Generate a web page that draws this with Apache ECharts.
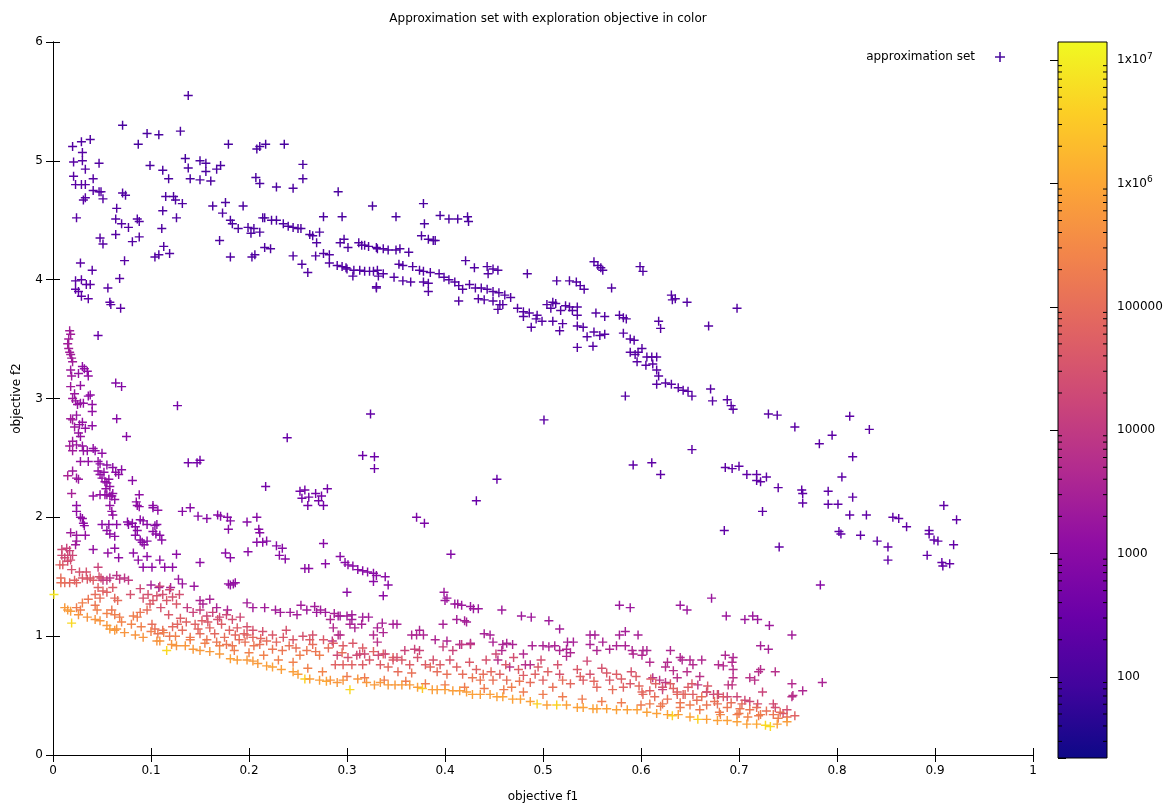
<!DOCTYPE html>
<html>
<head>
<meta charset="utf-8">
<script src="https://cdn.jsdelivr.net/npm/echarts@6/dist/echarts.min.js"></script>
<style>
html,body{margin:0;padding:0;background:#fff;}
#chart{width:1171px;height:808px;}
</style>
</head>
<body>
<div id="chart"></div>
<script>
// ---- data: [objective f1, objective f2, exploration objective] ----
const topCloud = [
[0.138,5.55,130],[0.071,5.30,110],[0.096,5.23,115],[0.108,5.22,110],[0.130,5.25,120],[0.020,5.12,155],[0.029,5.16,145],[0.038,5.18,135],
[0.087,5.14,110],[0.179,5.14,110],[0.208,5.10,115],[0.211,5.12,115],[0.217,5.14,110],[0.236,5.14,110],[0.030,5.07,165],[0.021,4.99,180],
[0.030,5.00,170],[0.047,4.98,145],[0.099,4.96,120],[0.135,5.02,110],[0.150,5.00,115],[0.156,4.98,120],[0.171,4.96,120],[0.255,4.97,125],
[0.033,4.93,165],[0.112,4.92,120],[0.138,4.94,115],[0.156,4.91,120],[0.167,4.93,120],[0.021,4.87,180],[0.041,4.85,165],[0.118,4.85,120],
[0.140,4.85,115],[0.150,4.84,120],[0.161,4.83,120],[0.207,4.86,125],[0.211,4.81,120],[0.255,4.85,125],[0.023,4.80,185],[0.029,4.80,180],
[0.033,4.80,175],[0.041,4.75,170],[0.047,4.74,165],[0.049,4.74,165],[0.071,4.73,145],[0.074,4.71,145],[0.228,4.78,125],[0.245,4.77,125],
[0.291,4.74,120],[0.031,4.67,175],[0.033,4.69,175],[0.051,4.68,165],[0.115,4.70,130],[0.123,4.70,130],[0.125,4.67,135],[0.132,4.64,135],
[0.176,4.65,125],[0.163,4.62,130],[0.194,4.62,125],[0.173,4.56,130],[0.065,4.60,155],[0.112,4.58,135],[0.024,4.52,190],[0.064,4.51,155],
[0.070,4.47,155],[0.077,4.44,155],[0.086,4.51,150],[0.088,4.49,150],[0.126,4.52,135],[0.111,4.43,140],[0.048,4.35,170],[0.051,4.30,170],
[0.064,4.38,160],[0.081,4.32,155],[0.088,4.36,155],[0.113,4.28,145],[0.170,4.33,130],[0.108,4.21,150],[0.119,4.22,145],[0.326,4.62,120],
[0.350,4.53,120],[0.378,4.64,120],[0.395,4.54,120],[0.404,4.51,120],[0.413,4.51,120],[0.423,4.53,120],[0.424,4.49,120],[0.276,4.53,120],
[0.295,4.53,120],[0.028,4.14,200],[0.040,4.08,190],[0.068,4.01,180],[0.073,4.16,175],[0.104,4.19,155]
];
const upperFront = [
[0.181,4.50,125],[0.183,4.47,125],[0.189,4.43,125],[0.199,4.44,125],[0.202,4.39,125],[0.205,4.43,125],[0.211,4.40,125],[0.214,4.52,120],
[0.216,4.52,120],[0.223,4.50,125],[0.228,4.50,125],[0.235,4.47,125],[0.240,4.45,125],[0.245,4.44,125],[0.250,4.43,130],[0.253,4.43,130],
[0.262,4.38,130],[0.265,4.37,130],[0.272,4.40,130],[0.216,4.27,135],[0.222,4.26,135],[0.203,4.19,140],[0.206,4.21,140],[0.181,4.19,145],
[0.269,4.31,135],[0.293,4.31,135],[0.297,4.34,135],[0.301,4.27,135],[0.315,4.29,135],[0.322,4.28,135],[0.330,4.27,135],[0.337,4.26,135],
[0.342,4.25,135],[0.350,4.25,135],[0.312,4.31,135],[0.318,4.29,135],[0.331,4.26,135],[0.354,4.26,135],[0.363,4.23,135],[0.376,4.37,130],
[0.383,4.34,130],[0.388,4.33,130],[0.390,4.33,130],[0.379,4.47,125],
[0.245,4.20,145],[0.254,4.13,145],[0.260,4.06,150],[0.268,4.20,145],[0.276,4.22,145],[0.282,4.21,145],[0.282,4.14,145],[0.290,4.12,145],
[0.295,4.11,145],[0.299,4.10,145],[0.300,4.09,145],[0.306,4.03,150],[0.307,4.08,145],[0.313,4.08,145],[0.318,4.07,145],[0.323,4.07,145],
[0.327,4.07,145],[0.331,4.08,145],[0.332,4.03,150],[0.337,4.05,150],[0.330,3.93,155],[0.348,4.02,150],[0.353,4.13,145],[0.357,4.12,145],
[0.357,3.99,150],[0.365,3.98,150],[0.367,4.11,145],[0.374,4.08,145],[0.378,4.07,145],[0.378,3.98,150],[0.383,3.97,150],[0.383,3.90,155],
[0.385,4.06,150],[0.394,4.05,150],[0.399,4.02,150],[0.404,4.00,150],[0.410,3.98,150],[0.414,3.95,150],[0.418,3.92,155],[0.414,3.82,155],
[0.425,3.96,150],[0.431,3.93,150],[0.437,3.93,150],[0.443,3.92,150],[0.449,3.90,155],[0.455,3.89,155],[0.461,3.87,155],[0.467,3.85,155],
[0.421,4.16,145],[0.443,4.11,145],[0.449,4.09,145],[0.454,4.08,145],[0.430,4.10,145],[0.444,4.05,150],[0.484,4.05,150],[0.504,3.79,155],
[0.434,3.84,155],[0.440,3.83,155],[0.449,3.82,155],[0.456,3.79,155],[0.459,3.79,155],[0.454,3.75,160],[0.474,3.76,155],[0.480,3.73,155],
[0.486,3.72,160],[0.494,3.70,160],[0.514,3.99,150],[0.527,3.99,150],[0.534,3.98,150],[0.538,3.95,150],[0.542,3.92,150],[0.552,4.15,145],
[0.556,4.12,145],[0.559,4.10,145],[0.561,4.08,145],[0.570,3.93,150],[0.599,4.11,145],[0.602,4.07,145],[0.631,3.87,155],[0.635,3.84,155],
[0.632,3.83,155],[0.647,3.81,155],[0.698,3.76,155],[0.669,3.61,160],[0.510,3.81,155],[0.513,3.80,155],[0.508,3.76,155],[0.518,3.74,155],
[0.523,3.78,155],[0.527,3.77,155],[0.530,3.74,155],[0.535,3.77,155],[0.535,3.70,160],[0.480,3.69,160],[0.493,3.67,160],[0.499,3.65,160],
[0.488,3.60,165],[0.510,3.65,160],[0.520,3.63,160],[0.517,3.57,165],[0.535,3.61,160],[0.541,3.60,160],[0.554,3.72,155],[0.563,3.69,155],
[0.545,3.52,165],[0.552,3.56,165],[0.558,3.53,165],[0.563,3.54,165],[0.535,3.43,170],[0.551,3.44,170],[0.578,3.70,155],[0.582,3.68,155],
[0.585,3.67,155],[0.582,3.55,165],[0.589,3.50,165],[0.593,3.49,165],[0.618,3.65,160],[0.620,3.59,160],[0.589,3.39,170],[0.594,3.37,170],
[0.597,3.39,170],[0.601,3.42,170],[0.606,3.35,170],[0.611,3.35,170],[0.616,3.35,170],[0.596,3.31,175],[0.605,3.28,175],[0.612,3.29,175],
[0.616,3.24,175],[0.618,3.19,175],[0.616,3.12,180],[0.625,3.13,180],[0.631,3.12,180],[0.638,3.09,180],[0.643,3.07,180],[0.648,3.06,180],
[0.652,3.02,180],[0.671,3.08,180],[0.673,2.98,185],[0.688,2.99,185],[0.692,2.94,185],[0.694,2.91,185],[0.584,3.02,185]
];
const rightTail = [
[0.730,2.87,190],[0.739,2.86,190],[0.757,2.76,200],[0.813,2.85,200],[0.833,2.74,200],[0.795,2.69,205],[0.782,2.62,205],[0.816,2.51,210],
[0.805,2.34,215],[0.764,2.23,220],[0.765,2.20,220],[0.765,2.12,225],[0.791,2.22,220],[0.791,2.11,225],[0.801,2.11,225],[0.816,2.17,225],
[0.813,2.02,230],[0.830,2.02,230],[0.857,2.00,230],[0.863,1.99,230],[0.871,1.92,235],[0.894,1.89,240],[0.894,1.86,240],[0.899,1.81,240],
[0.903,1.80,245],[0.909,2.10,230],[0.922,1.98,235],[0.919,1.77,245],[0.892,1.68,250],[0.907,1.62,260],[0.908,1.59,260],[0.915,1.61,260],
[0.852,1.75,250],[0.852,1.64,255],[0.841,1.80,245],[0.824,1.85,245],[0.802,1.88,240],[0.804,1.86,240],[0.724,2.05,230],[0.685,1.89,240],
[0.741,1.75,250]
];
const midScatter = [
[0.501,2.82,200],[0.652,2.57,210],[0.592,2.44,220],[0.611,2.46,220],[0.620,2.36,225],[0.686,2.42,220],[0.693,2.41,220],[0.700,2.43,220],
[0.708,2.36,225],[0.718,2.36,225],[0.718,2.31,225],[0.722,2.30,225],[0.728,2.34,225],[0.740,2.25,230],[0.432,2.14,300],[0.453,2.32,280],
[0.127,2.94,500],[0.239,2.67,300],[0.324,2.87,250],[0.138,2.46,450],[0.147,2.46,450],[0.150,2.48,450],[0.316,2.52,350],[0.328,2.51,350],
[0.328,2.41,350],[0.217,2.26,450],[0.252,2.22,450],[0.257,2.23,450],[0.254,2.16,450],[0.261,2.17,450],[0.268,2.20,450],[0.274,2.18,450],
[0.280,2.24,450],[0.271,2.14,450],[0.276,2.10,450],[0.260,2.10,450],[0.371,2.00,600],[0.379,1.95,600],[0.406,1.69,800],[0.783,1.43,900],
[0.330,3.94,180]
];
const leftColumn = [
[0.023,3.99,200],[0.023,3.92,210],[0.026,3.90,210],[0.029,3.86,215],[0.034,3.96,200],[0.038,3.96,200],[0.036,3.84,220],[0.056,3.93,190],
[0.058,3.81,200],[0.059,3.79,200],[0.069,3.76,200],[0.046,3.53,300],[0.029,4.00,200],
[0.017,3.57,2500],[0.018,3.54,2500],[0.016,3.50,2500],[0.015,3.46,2600],[0.016,3.42,2600],[0.017,3.39,2500],[0.018,3.37,2500],[0.019,3.34,2400],
[0.020,3.31,2400],[0.018,3.24,2000],[0.019,3.19,2000],[0.026,3.21,1500],[0.030,3.27,1200],[0.032,3.25,1200],[0.035,3.23,1200],[0.036,3.19,1300],
[0.018,3.10,2200],[0.028,3.11,1500],[0.022,3.04,1800],[0.020,3.00,2000],[0.023,2.98,1800],[0.025,2.95,1600],[0.028,2.96,1500],[0.031,2.96,1400],
[0.036,3.02,1200],[0.038,3.03,1200],[0.040,2.95,1300],[0.040,2.89,1300],[0.065,2.83,900],[0.075,2.68,900],[0.064,3.13,800],[0.070,3.10,800],
[0.018,2.83,2400],[0.020,2.82,2200],[0.024,2.86,1600],[0.022,2.76,2000],[0.027,2.78,1500],[0.030,2.80,1400],[0.033,2.75,1300],[0.040,2.77,1200],
[0.026,2.71,1600],[0.028,2.68,1500],[0.020,2.64,2000],[0.017,2.60,2500],[0.024,2.61,1800],[0.030,2.60,1600],[0.020,2.56,2200],[0.031,2.56,1500],
[0.035,2.56,1400],[0.041,2.58,1300],[0.043,2.56,1200],[0.050,2.54,1200],[0.028,2.47,1500],[0.036,2.47,1300],[0.046,2.47,1200],[0.048,2.45,1200],
[0.055,2.44,1100],[0.061,2.42,1100],[0.070,2.40,1000],[0.015,2.35,3500],[0.020,2.39,2000],[0.024,2.33,1800],[0.026,2.32,1800],[0.046,2.39,1300],
[0.048,2.36,1300],[0.052,2.38,1200],[0.050,2.33,1300],[0.053,2.30,1300],[0.055,2.29,1200],[0.057,2.32,1200],[0.058,2.26,1300],[0.054,2.24,1300],
[0.061,2.20,1300],[0.055,2.19,1300],[0.060,2.18,1200],[0.063,2.15,1300],[0.064,2.38,1100],[0.067,2.36,1100],[0.081,2.31,1000],[0.019,2.20,3000],
[0.041,2.18,1400],[0.048,2.19,1400],[0.053,2.19,1300],[0.058,2.18,1300],[0.058,2.10,1400],[0.060,2.05,1400],[0.061,2.02,1400],[0.085,2.13,1200],
[0.086,2.10,1200],[0.088,2.09,1200],[0.088,2.19,1200],[0.102,2.10,1200],[0.107,2.06,1200]
];
const midBand = [
[0.024,2.10,1200],[0.024,2.05,1200],[0.028,2.00,1150],[0.030,1.99,1150],[0.031,1.95,1150],[0.032,1.93,1150],[0.050,1.94,1000],[0.057,1.94,1000],
[0.077,1.94,950],[0.081,1.95,950],[0.084,1.92,950],[0.089,1.98,950],[0.092,1.97,950],[0.096,1.94,950],[0.106,1.94,950],[0.102,1.88,1000],
[0.109,1.85,1000],[0.018,1.87,2200],[0.024,1.85,1800],[0.033,1.85,1400],[0.024,1.80,2000],[0.023,1.77,2200],[0.041,1.73,1400],[0.055,1.89,1100],
[0.058,1.86,1100],[0.063,1.84,1100],[0.065,1.94,1000],[0.056,1.70,1400],[0.063,1.74,1200],[0.067,1.66,1200],[0.076,1.96,950],[0.086,1.89,1000],
[0.084,1.85,1000],[0.089,1.81,1000],[0.091,1.79,1000],[0.093,1.77,1100],[0.096,1.80,1000],[0.104,1.93,950],[0.105,1.86,1000],[0.111,1.81,1000],
[0.082,1.70,1150],[0.087,1.64,1150],[0.096,1.67,1150],[0.101,1.58,1200],[0.092,1.58,1200],[0.109,1.64,1150],[0.114,1.58,1150],[0.122,1.58,1150],
[0.126,1.69,1100],[0.102,2.08,900],[0.132,2.05,900],[0.140,2.08,900],[0.148,2.01,900],[0.157,1.99,900],[0.168,2.02,900],[0.171,2.01,900],
[0.178,2.00,900],[0.181,1.97,900],[0.179,1.90,950],[0.198,1.96,900],[0.208,2.00,900],[0.210,1.90,950],[0.211,1.87,950],[0.208,1.79,950],
[0.214,1.79,950],[0.218,1.80,950],[0.228,1.76,950],[0.234,1.74,950],[0.231,1.68,1000],[0.237,1.65,1000],[0.199,1.71,1000],[0.176,1.70,1000],
[0.181,1.66,1000],[0.179,1.44,1400],[0.184,1.44,1400],[0.150,1.62,1150],[0.257,1.57,1100],[0.261,1.57,1100],[0.276,1.78,900],[0.278,1.61,1000],
[0.293,1.67,950],[0.298,1.62,950],[0.301,1.60,950],[0.306,1.59,950],[0.311,1.56,950],[0.316,1.55,950],[0.321,1.54,950],[0.327,1.53,950],
[0.330,1.51,1000],[0.327,1.46,1000],[0.339,1.50,1000],[0.342,1.43,1000],[0.337,1.34,1100],[0.300,1.37,1100],[0.128,1.48,1800],[0.132,1.44,1800],
[0.144,1.42,1800],[0.181,1.43,1400],[0.186,1.45,1400]
];
const purpleUpper = [
[0.100,1.43,3000],[0.108,1.41,3000],[0.120,1.41,3000],[0.150,1.30,3500],[0.153,1.27,3500],[0.160,1.31,3000],[0.167,1.24,3500],[0.178,1.22,3500],
[0.198,1.28,2500],[0.204,1.24,2500],[0.216,1.24,2500],[0.227,1.22,2500],[0.232,1.20,2500],[0.242,1.20,2500],[0.249,1.18,2500],[0.259,1.22,2200],
[0.269,1.20,2200],[0.278,1.20,2200],[0.291,1.17,2200],[0.253,1.26,2500],[0.267,1.25,2500],[0.273,1.22,2500],[0.287,1.19,3000],
[0.293,1.17,2500],[0.300,1.17,2500],[0.305,1.18,2500],[0.305,1.14,2500],[0.316,1.16,2500],[0.322,1.16,2500],[0.303,1.10,3500],[0.308,1.07,3500],
[0.315,1.10,3000],[0.331,1.07,3500],[0.336,1.11,3000],[0.337,1.03,4000],[0.347,1.10,3000],[0.351,1.10,3000],[0.283,1.14,4000],[0.286,1.07,5000],
[0.291,1.01,6000],[0.293,1.01,6000],[0.285,0.96,8000],[0.327,1.01,5000],[0.331,0.95,7000],
[0.399,1.37,2000],[0.402,1.32,2000],[0.400,1.30,2000],[0.410,1.27,2000],[0.413,1.27,2000],[0.417,1.26,2000],[0.426,1.25,2000],[0.429,1.23,2000],
[0.434,1.23,2000],[0.458,1.22,2200],[0.478,1.17,2200],[0.488,1.16,2200],[0.506,1.13,2200],[0.517,1.06,2500],[0.578,1.26,2000],[0.589,1.24,2000],
[0.640,1.26,2000],[0.647,1.22,2000],[0.672,1.32,1800],[0.687,1.17,2000],[0.398,1.10,3000],[0.412,1.14,2800],[0.420,1.13,2800],[0.422,1.12,2800],
[0.366,1.01,4000],[0.371,1.01,4000],[0.378,1.01,4000],[0.374,1.05,3500],[0.390,0.97,4000],[0.402,0.96,4000],[0.415,0.93,4500],[0.426,0.94,4500],
[0.440,1.02,3000],[0.446,1.01,3000],[0.449,0.95,3500],[0.459,0.93,3500],[0.463,0.94,3500],[0.469,0.93,3500],[0.458,0.88,4500],[0.454,0.80,6000],
[0.466,0.74,7000],[0.480,0.85,4500],[0.482,0.76,6000],[0.487,0.76,6000],[0.489,0.92,3500],[0.500,0.92,3500],[0.506,0.91,3500],[0.512,0.92,3500],
[0.517,0.88,4000],[0.524,0.89,3800],[0.525,0.95,3000],[0.531,0.95,3000],[0.528,0.86,4000],[0.524,0.83,4500],
[0.548,1.01,3000],[0.553,1.01,3000],[0.548,0.93,3500],[0.555,0.88,4000],[0.561,0.95,3500],[0.568,0.89,4000],[0.575,0.92,3500],[0.578,1.01,3000],
[0.584,1.04,2800],[0.584,0.92,3500],[0.591,0.88,4000],[0.592,0.85,4500],[0.597,1.01,3000],[0.602,0.88,4000],
[0.606,0.88,4000],[0.601,0.84,4500],[0.609,0.78,5000],[0.630,0.88,4000],[0.640,0.82,4500],[0.642,0.80,4500],[0.650,0.80,4500],[0.653,0.76,5000],
[0.662,0.80,4500],[0.627,0.78,5000],[0.625,0.74,5500],[0.633,0.71,6000],[0.647,0.70,6000],[0.637,0.65,7000],[0.612,0.65,7000],[0.619,0.63,8000],
[0.625,0.61,9000],[0.622,0.55,12000],[0.660,0.66,7000],[0.658,0.59,9000],[0.686,0.84,4000],[0.694,0.82,4000],[0.679,0.76,5000],[0.684,0.75,5000],
[0.693,0.78,5000],[0.694,0.72,5500],[0.694,0.65,7000],[0.689,0.59,9000],[0.693,0.59,9000],[0.711,0.65,7000],[0.716,0.63,7000],[0.722,0.72,5500],
[0.720,0.70,6000],[0.737,0.70,6000],[0.724,0.53,15000],[0.667,0.53,15000],[0.674,0.51,15000],[0.679,0.51,15000],[0.688,0.49,18000],[0.698,0.49,18000],
[0.706,0.46,20000],[0.711,0.45,20000],[0.719,0.43,22000],[0.735,0.43,22000],[0.737,0.40,25000],[0.749,0.38,25000],[0.745,0.35,30000],
[0.706,1.14,2000],[0.714,1.17,2000],[0.719,1.14,2000],[0.731,1.09,2200],[0.754,1.01,2500],[0.722,0.92,3000],[0.730,0.89,3000],[0.785,0.61,3500],
[0.765,0.54,4000],[0.754,0.60,5000],[0.754,0.49,6000],[0.755,0.50,6000]
];
const pinkBand = [
[0.009,1.73,20000],[0.009,1.68,20000],[0.010,1.60,40000],[0.012,1.66,20000],[0.014,1.74,15000],[0.015,1.68,20000],[0.015,1.63,25000],[0.017,1.72,15000],
[0.018,1.64,25000],[0.019,1.56,30000],[0.020,1.68,18000],[0.007,1.60,60000],[0.008,1.49,100000],[0.008,1.45,120000],[0.012,1.45,100000],[0.017,1.45,80000],
[0.022,1.47,60000],[0.024,1.45,70000],[0.027,1.54,30000],[0.030,1.49,40000],[0.034,1.54,30000],[0.035,1.48,40000],[0.038,1.49,40000],[0.041,1.47,50000],
[0.046,1.58,15000],[0.047,1.50,30000],[0.046,1.41,60000],[0.049,1.49,30000],[0.024,1.24,200000],[0.028,1.22,200000],[0.036,1.31,150000],[0.043,1.35,100000],
[0.043,1.26,150000],[0.048,1.32,100000],[0.051,1.38,60000],[0.055,1.37,60000],[0.061,1.41,40000],[0.063,1.32,80000],[0.066,1.30,100000],
[0.051,1.47,10000],[0.055,1.47,10000],[0.058,1.49,8000],[0.065,1.51,7000],[0.068,1.48,9000],[0.073,1.49,8000],[0.077,1.47,9000],
[0.060,1.22,150000],[0.063,1.18,200000],[0.068,1.16,200000],[0.082,1.17,200000],[0.086,1.16,200000],[0.089,1.20,150000],[0.096,1.22,100000],
[0.079,1.35,30000],[0.089,1.40,20000],[0.092,1.32,30000],[0.097,1.35,30000],[0.099,1.27,50000],[0.102,1.30,40000],[0.106,1.34,30000],[0.109,1.42,15000],
[0.112,1.35,25000],[0.116,1.30,40000],[0.119,1.39,20000],[0.122,1.33,30000],[0.126,1.27,40000],[0.129,1.35,25000],
[0.101,1.10,100000],[0.104,1.06,120000],[0.107,1.02,150000],[0.112,1.05,120000],[0.119,1.00,150000],[0.122,1.08,80000],[0.127,1.10,70000],[0.132,1.05,90000],
[0.137,1.24,10000],[0.143,1.20,15000],[0.150,1.22,12000],[0.157,1.17,20000],[0.163,1.20,15000],[0.170,1.16,20000],[0.177,1.18,18000],[0.183,1.14,25000],
[0.191,1.16,20000],[0.140,0.99,150000],[0.150,1.02,100000],[0.157,0.97,150000],[0.167,0.95,150000],[0.177,0.93,150000],[0.183,0.92,150000],[0.190,0.97,100000],
[0.198,1.01,70000],[0.204,0.99,80000],[0.211,0.93,120000],[0.218,0.96,100000],[0.224,0.89,150000],[0.234,0.88,150000],[0.241,0.92,120000],[0.252,0.84,200000],
[0.259,0.88,150000],[0.265,0.93,100000],[0.272,0.84,200000],
[0.198,1.08,30000],[0.204,1.05,30000],[0.214,1.04,30000],[0.224,1.01,40000],[0.235,0.99,40000],[0.245,0.97,40000],[0.255,1.00,30000],[0.265,1.01,30000],
[0.276,0.97,40000],[0.286,0.94,50000],[0.296,0.92,50000],[0.306,0.94,40000],[0.316,0.90,50000],[0.327,0.87,60000],[0.337,0.85,60000],[0.347,0.82,70000],
[0.110,1.24,30000],[0.118,1.18,40000],[0.130,1.15,50000],[0.136,1.12,60000],[0.145,1.10,60000],[0.152,1.13,50000],[0.160,1.07,70000],[0.172,1.10,50000],
[0.180,1.05,60000],[0.188,1.07,50000],[0.195,1.02,60000],[0.165,1.02,80000],[0.175,0.99,100000],[0.205,0.92,150000],
[0.148,1.06,70000],[0.158,1.12,40000],[0.168,1.14,30000],[0.186,1.01,80000],[0.196,0.95,120000],[0.212,0.98,80000],[0.228,0.95,80000],[0.238,1.05,30000],
[0.248,0.90,120000],[0.262,0.97,50000],[0.268,0.87,150000],[0.281,0.90,100000],[0.295,0.86,100000],
[0.290,0.84,20000],[0.288,0.76,60000],[0.296,0.76,60000],[0.301,0.82,30000],[0.305,0.76,60000],[0.310,0.84,20000],[0.313,0.85,20000],[0.318,0.85,20000],
[0.316,0.76,50000],[0.323,0.80,40000],[0.332,0.84,20000],[0.334,0.76,50000],[0.339,0.85,20000],[0.342,0.74,80000],[0.347,0.80,40000],[0.351,0.82,30000],
[0.356,0.80,40000],[0.359,0.88,15000],[0.364,0.76,50000],[0.369,0.89,15000],[0.374,0.88,15000],[0.380,0.76,50000],[0.385,0.74,80000],[0.395,0.76,50000],
[0.398,0.91,12000],[0.402,0.68,120000],[0.408,0.88,15000],[0.417,0.93,10000],[0.418,0.68,100000],[0.426,0.93,10000],[0.428,0.65,150000],[0.436,0.63,150000],
[0.439,0.68,100000],[0.449,0.63,120000],[0.456,0.68,60000],[0.463,0.63,100000],[0.468,0.57,200000],[0.480,0.67,50000],[0.487,0.61,100000],[0.500,0.63,60000],
[0.510,0.57,120000],[0.517,0.68,30000],[0.528,0.60,80000],[0.541,0.63,50000],[0.548,0.68,30000],[0.555,0.57,80000],[0.568,0.63,40000],[0.571,0.55,100000],
[0.582,0.57,60000],[0.589,0.60,40000],[0.601,0.53,80000],[0.609,0.54,60000],[0.622,0.57,30000],[0.637,0.53,50000],[0.643,0.51,60000],[0.653,0.51,50000],
[0.667,0.53,30000],[0.678,0.51,30000],[0.684,0.49,40000],
[0.405,0.80,30000],[0.425,0.78,40000],[0.442,0.80,30000],[0.462,0.76,40000],[0.475,0.72,50000],[0.495,0.74,40000],[0.505,0.70,60000],[0.535,0.72,40000],
[0.560,0.73,30000],[0.575,0.68,50000],[0.595,0.66,50000],[0.610,0.64,50000],[0.630,0.60,50000],[0.652,0.60,40000],[0.668,0.58,40000],
[0.352,0.70,100000],[0.366,0.69,120000],[0.372,0.82,30000],[0.388,0.80,30000],[0.392,0.70,100000],[0.412,0.74,60000],[0.432,0.72,60000],[0.447,0.70,80000],
[0.452,0.85,20000],[0.470,0.82,25000],[0.476,0.62,150000],[0.492,0.68,60000],[0.498,0.80,25000],[0.515,0.76,30000],[0.520,0.63,100000],[0.538,0.66,60000],
[0.545,0.79,20000],[0.552,0.62,80000],[0.565,0.69,40000],[0.580,0.64,50000],[0.590,0.70,30000],[0.598,0.58,80000],[0.615,0.60,60000],[0.633,0.56,60000],
[0.648,0.57,50000],[0.662,0.49,100000],[0.675,0.45,120000],[0.692,0.44,100000],[0.703,0.43,80000],[0.718,0.40,100000],[0.728,0.37,120000],[0.742,0.36,100000],
[0.602,0.51,80000],[0.614,0.49,100000],[0.627,0.47,120000],[0.637,0.51,80000],[0.645,0.51,80000],[0.657,0.46,120000],[0.650,0.42,200000],[0.667,0.42,150000],
[0.678,0.43,120000],[0.688,0.40,150000],[0.701,0.39,150000],[0.711,0.38,150000],[0.722,0.34,200000],[0.735,0.34,150000],[0.749,0.32,100000],[0.757,0.33,60000],
[0.609,0.43,200000],[0.622,0.43,150000],[0.640,0.44,150000],[0.681,0.34,300000],[0.698,0.34,200000],[0.709,0.32,250000]
];
const orangeBand = [
[0.030,1.28,220000],[0.045,1.22,220000],[0.055,1.19,250000],[0.070,1.12,250000],[0.080,1.10,250000],[0.090,1.08,220000],[0.100,1.04,220000],[0.113,1.03,220000],
[0.125,1.00,220000],[0.140,0.97,220000],[0.155,0.94,220000],[0.170,0.92,220000],[0.185,0.88,220000],[0.200,0.86,220000],[0.215,0.84,220000],[0.230,0.80,220000],
[0.245,0.78,220000],[0.260,0.73,220000],[0.275,0.70,250000],
[0.300,0.66,180000],[0.318,0.65,180000],[0.338,0.63,180000],[0.360,0.62,180000],[0.380,0.60,180000],[0.400,0.59,180000],[0.420,0.57,180000],[0.440,0.56,180000],
[0.460,0.55,180000],[0.480,0.53,180000],[0.500,0.51,180000],[0.520,0.49,180000],[0.540,0.47,180000],[0.560,0.45,180000],[0.580,0.44,180000],[0.600,0.42,180000],
[0.620,0.41,180000],[0.640,0.40,180000],[0.660,0.38,180000],[0.680,0.36,180000],[0.700,0.35,180000],[0.720,0.33,180000],[0.740,0.31,180000]
];
const bottomEdge = [
[0.001,1.35,8000000],[0.012,1.24,600000],[0.015,1.22,600000],[0.018,1.21,700000],[0.019,1.11,5000000],[0.026,1.18,500000],[0.035,1.16,500000],
[0.043,1.14,500000],[0.048,1.13,500000],[0.055,1.09,550000],[0.058,1.06,700000],[0.063,1.05,600000],[0.065,1.06,500000],[0.073,1.03,500000],
[0.084,1.01,500000],[0.092,0.99,500000],[0.106,0.96,500000],[0.109,0.96,500000],[0.116,0.88,5000000],[0.121,0.93,500000],[0.126,0.92,500000],
[0.135,0.92,550000],[0.143,0.89,600000],[0.150,0.88,600000],[0.160,0.87,600000],[0.170,0.85,600000],[0.181,0.81,800000],[0.188,0.80,700000],
[0.198,0.80,600000],[0.204,0.79,600000],[0.209,0.77,600000],[0.218,0.75,700000],[0.224,0.74,800000],[0.233,0.72,700000],[0.245,0.70,700000],
[0.250,0.68,700000],[0.257,0.64,4000000],[0.262,0.64,700000],[0.272,0.63,700000],[0.279,0.62,1000000],
[0.283,0.63,500000],[0.290,0.61,550000],[0.296,0.63,500000],[0.303,0.55,5000000],[0.311,0.64,500000],[0.320,0.61,550000],[0.328,0.59,600000],
[0.334,0.61,550000],[0.342,0.59,600000],[0.349,0.59,600000],[0.356,0.59,600000],[0.364,0.59,600000],[0.372,0.57,700000],[0.377,0.56,3000000],
[0.387,0.55,700000],[0.392,0.55,700000],[0.400,0.55,700000],[0.408,0.54,700000],[0.415,0.54,700000],[0.422,0.53,700000],[0.428,0.51,800000],
[0.436,0.51,700000],[0.446,0.51,700000],[0.453,0.49,800000],[0.459,0.49,800000],[0.469,0.47,800000],[0.477,0.47,800000],[0.487,0.45,800000],
[0.494,0.43,4000000],[0.504,0.42,800000],[0.514,0.42,4000000],[0.524,0.42,800000],[0.535,0.40,800000],[0.541,0.40,800000],[0.551,0.39,800000],
[0.555,0.39,800000],[0.565,0.39,800000],[0.575,0.38,800000],[0.586,0.38,800000],[0.596,0.38,800000],[0.606,0.36,800000],[0.616,0.35,800000],
[0.627,0.34,800000],[0.632,0.33,4000000],[0.638,0.34,800000],[0.650,0.32,800000],[0.658,0.30,4000000],[0.667,0.30,800000],[0.678,0.29,800000],
[0.688,0.29,800000],[0.698,0.28,800000],[0.708,0.26,800000],[0.718,0.26,1000000],[0.727,0.25,5000000],[0.732,0.24,5000000],[0.739,0.26,800000],
[0.749,0.28,700000]
];

// colour scale range (exploration objective, log scale)
const cbMin = 22;
const cbMax = 1.4e7;
const cbMinorTicks = [];
for (let e = 1; e <= 7; e++) {
  for (let m = 2; m <= 9; m++) {
    const v = m * Math.pow(10, e);
    if (v > cbMin && v < cbMax) cbMinorTicks.push(v);
  }
}

const plasma = ['#0d0887','#41049d','#6a00a8','#8f0da4','#b12a90','#cc4778','#e16462','#f2844b','#fca636','#fcce25','#f0f921'];
const FONT = 'DejaVu Sans';
const plusPath = 'path://M4.2,0H5.8V4.2H10V5.8H5.8V10H4.2V5.8H0V4.2H4.2Z';

const allPoints = [].concat(topCloud, upperFront, rightTail, midScatter, leftColumn, midBand,
  purpleUpper, pinkBand, orangeBand, bottomEdge);
const scatterData = allPoints.map(p => [p[0], p[1], Math.log10(p[2])]);

const chart = echarts.init(document.getElementById('chart'), null, {renderer: 'canvas'});

const axisCommon = {
  axisLine: {show: true, lineStyle: {color: '#000', width: 1}},
  axisTick: {show: true, inside: true, length: 7, lineStyle: {color: '#000'}},
  splitLine: {show: false}
};

const option = {
  backgroundColor: '#fff',
  animation: false,
  textStyle: {fontFamily: FONT},
  title: {
    text: 'Approximation set with exploration objective in color',
    left: 543, top: 8, textAlign: 'center',
    textStyle: {fontFamily: FONT, fontSize: 12, fontWeight: 'normal', color: '#000'}
  },
  legend: {
    data: [{name: 'approximation set', icon: plusPath, itemStyle: {color: '#4b0c9f'}}],
    right: 166, top: 51, padding: 0, align: 'right',
    itemWidth: 10, itemHeight: 10,
    textStyle: {fontFamily: FONT, fontSize: 12, color: '#000', padding: [0, 15, 0, 0]}
  },
  grid: [
    {left: 53, top: 42, width: 980, height: 716},
    {left: 1058, top: 42, width: 49, height: 716}
  ],
  xAxis: [
    Object.assign({}, axisCommon, {
      type: 'value', gridIndex: 0, min: 0, max: 1, interval: 0.1, position: 'bottom',
      name: 'objective f1', nameLocation: 'middle', nameGap: 36,
      nameTextStyle: {fontFamily: FONT, fontSize: 12, color: '#000'},
      axisLabel: {margin: 10, fontFamily: FONT, fontSize: 12, color: '#000',
        formatter: v => String(Math.round(v * 10) / 10)}
    }),
    Object.assign({}, axisCommon, {
      type: 'value', gridIndex: 0, min: 0, max: 1, interval: 0.1, position: 'top',
      axisLabel: {show: false}
    }),
    {type: 'value', gridIndex: 1, min: 0, max: 1, show: false}
  ],
  yAxis: [
    Object.assign({}, axisCommon, {
      type: 'value', gridIndex: 0, min: 0, max: 6, interval: 1, position: 'left',
      name: 'objective f2', nameLocation: 'middle', nameGap: 30, nameRotate: 90,
      nameTextStyle: {fontFamily: FONT, fontSize: 12, color: '#000'},
      axisLabel: {margin: 10, fontFamily: FONT, fontSize: 12, color: '#000'}
    }),
    Object.assign({}, axisCommon, {
      type: 'value', gridIndex: 0, min: 0, max: 6, interval: 1, position: 'right',
      axisLabel: {show: false}
    }),
    {
      type: 'log', gridIndex: 1, min: cbMin, max: cbMax, logBase: 10, position: 'right',
      axisLine: {show: false},
      axisTick: {show: true, inside: true, length: 8, lineStyle: {color: '#000'}},
      splitLine: {show: false},
      axisLabel: {
        margin: 10, fontFamily: FONT, fontSize: 12, color: '#000',
        showMinLabel: false, showMaxLabel: false,
        formatter: v => {
          const e = Math.round(Math.log10(v));
          if (Math.abs(Math.log10(v) - e) > 1e-6) return '';
          if (e >= 6) return '1x10{s|' + e + '}';
          return String(Math.pow(10, e));
        },
        rich: {s: {fontFamily: FONT, fontSize: 9, color: '#000', padding: [0, 0, 7, 0]}}
      }
    },
    {
      type: 'log', gridIndex: 1, min: cbMin, max: cbMax, logBase: 10, position: 'left',
      axisLine: {show: false},
      axisTick: {show: true, inside: true, length: 8, lineStyle: {color: '#000'}},
      splitLine: {show: false},
      axisLabel: {show: false}
    }
  ],
  visualMap: {
    show: false, type: 'continuous', seriesIndex: 0, dimension: 2,
    min: Math.log10(cbMin), max: Math.log10(cbMax),
    inRange: {color: plasma}
  },
  series: [
    {
      name: 'approximation set',
      type: 'scatter', xAxisIndex: 0, yAxisIndex: 0,
      symbol: plusPath, symbolSize: 9,
      itemStyle: {color: '#4b0c9f', opacity: 1},
      data: scatterData,
      silent: true
    },
    {
      type: 'custom', xAxisIndex: 2, yAxisIndex: 2, silent: true,
      data: [[0, cbMin, 1, cbMax]],
      renderItem: (params, api) => {
        const p0 = api.coord([api.value(0), api.value(3)]);
        const p1 = api.coord([api.value(2), api.value(1)]);
        const stops = plasma.map((c, i) => ({offset: i / (plasma.length - 1), color: c}));
        return {
          type: 'rect',
          shape: {x: p0[0], y: p0[1], width: p1[0] - p0[0], height: p1[1] - p0[1]},
          style: {fill: new echarts.graphic.LinearGradient(0, 1, 0, 0, stops), stroke: '#000', lineWidth: 1}
        };
      }
    },
    {
      type: 'custom', xAxisIndex: 2, yAxisIndex: 2, silent: true, z: 3,
      data: cbMinorTicks.map(v => [0.5, v]),
      renderItem: (params, api) => {
        const l = api.coord([0, api.value(1)]);
        const r = api.coord([1, api.value(1)]);
        return {
          type: 'group',
          children: [
            {type: 'line', shape: {x1: l[0], y1: l[1], x2: l[0] + 4, y2: l[1]}, style: {stroke: '#000', lineWidth: 1}},
            {type: 'line', shape: {x1: r[0], y1: r[1], x2: r[0] - 4, y2: r[1]}, style: {stroke: '#000', lineWidth: 1}}
          ]
        };
      }
    }
  ]
};
chart.setOption(option);
</script>
</body>
</html>
